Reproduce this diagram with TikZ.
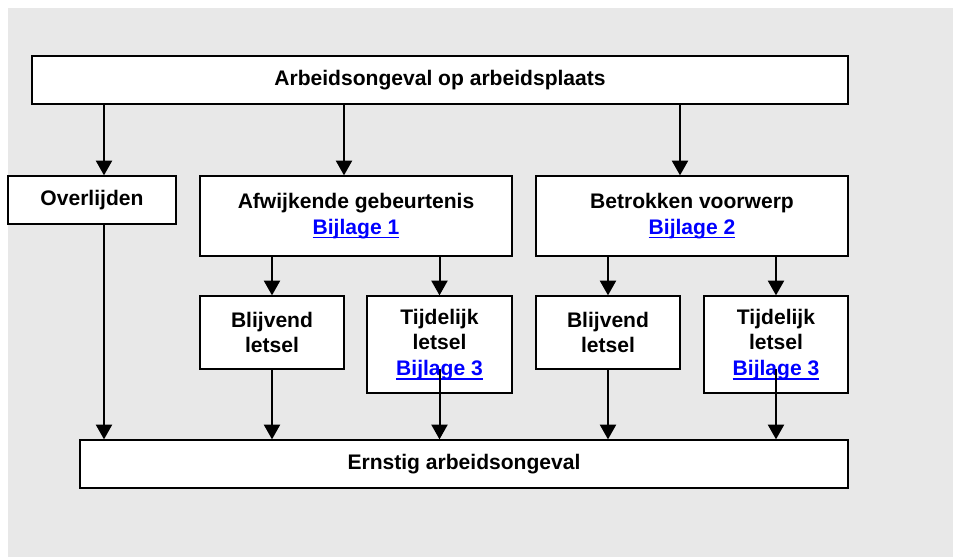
\documentclass[tikz,border=0pt]{standalone}
\usepackage{fontspec}
\setmainfont{Liberation Sans}
\usetikzlibrary{arrows.meta}
\definecolor{bggray}{HTML}{E8E8E8}
\definecolor{linkblue}{HTML}{0000FF}
\newcommand{\lnk}[1]{\textcolor{linkblue}{\setbox0\hbox{#1}\rlap{\rule[-3.3pt]{\wd0}{1.3pt}}\box0}}
\tikzset{
  box/.style={draw=black, line width=1.3pt, fill=white, inner sep=0pt, outer sep=0pt,
    align=center, font=\fontsize{15.8}{18.9}\selectfont\bfseries},
  arr/.style={draw=black, line width=1.5pt, -{Triangle[width=12pt,length=11pt]}, shorten >=0.5pt}
}
\begin{document}
\begin{tikzpicture}[x=0.75pt,y=-0.75pt]
\useasboundingbox (0,0) rectangle (953,557);
\fill[bggray] (8,8) rectangle (953,557);
\node[box, minimum width=612pt, minimum height=36pt] (top) at (440,80) {Arbeidsongeval op arbeidsplaats};
\node[box, minimum width=126pt, minimum height=36pt] (over) at (92,200) {Overlijden};
\node[box, minimum width=234pt, minimum height=60pt] (afw) at (356,216) {Afwijkende gebeurtenis\\\lnk{Bijlage 1}};
\node[box, minimum width=234pt, minimum height=60pt] (bet) at (692,216) {Betrokken voorwerp\\\lnk{Bijlage 2}};
\node[box, minimum width=108pt, minimum height=54.75pt] (bl1) at (272,332.5) {Blijvend\\letsel};
\node[box, minimum width=108.75pt, minimum height=72.75pt] (ti1) at (439.5,344.5) {Tijdelijk\\letsel\\\lnk{Bijlage 3}};
\node[box, minimum width=108pt, minimum height=54.75pt] (bl2) at (608,332.5) {Blijvend\\letsel};
\node[box, minimum width=108pt, minimum height=72.75pt] (ti2) at (776,344.5) {Tijdelijk\\letsel\\\lnk{Bijlage 3}};
\node[box, minimum width=576pt, minimum height=36pt] (ern) at (464,464) {Ernstig arbeidsongeval};
\coordinate (xa) at (104,0);
\coordinate (xb) at (344,0);
\coordinate (xc) at (680,0);
\draw[arr] (top.south -| xa) -- (over.north -| xa);
\draw[arr] (top.south -| xb) -- (afw.north -| xb);
\draw[arr] (top.south -| xc) -- (bet.north -| xc);
\draw[arr] (afw.south -| bl1.north) -- (bl1.north);
\draw[arr] (afw.south -| ti1.north) -- (ti1.north);
\draw[arr] (bet.south -| bl2.north) -- (bl2.north);
\draw[arr] (bet.south -| ti2.north) -- (ti2.north);
\draw[arr] (over.south -| xa) -- (ern.north -| xa);
\draw[arr] (bl1.south) -- (ern.north -| bl1.south);
\draw[arr] (ti1.center |- bl1.south) -- (ern.north -| ti1.center);
\draw[arr] (bl2.south) -- (ern.north -| bl2.south);
\draw[arr] (ti2.center |- bl2.south) -- (ern.north -| ti2.center);
\end{tikzpicture}
\end{document}
